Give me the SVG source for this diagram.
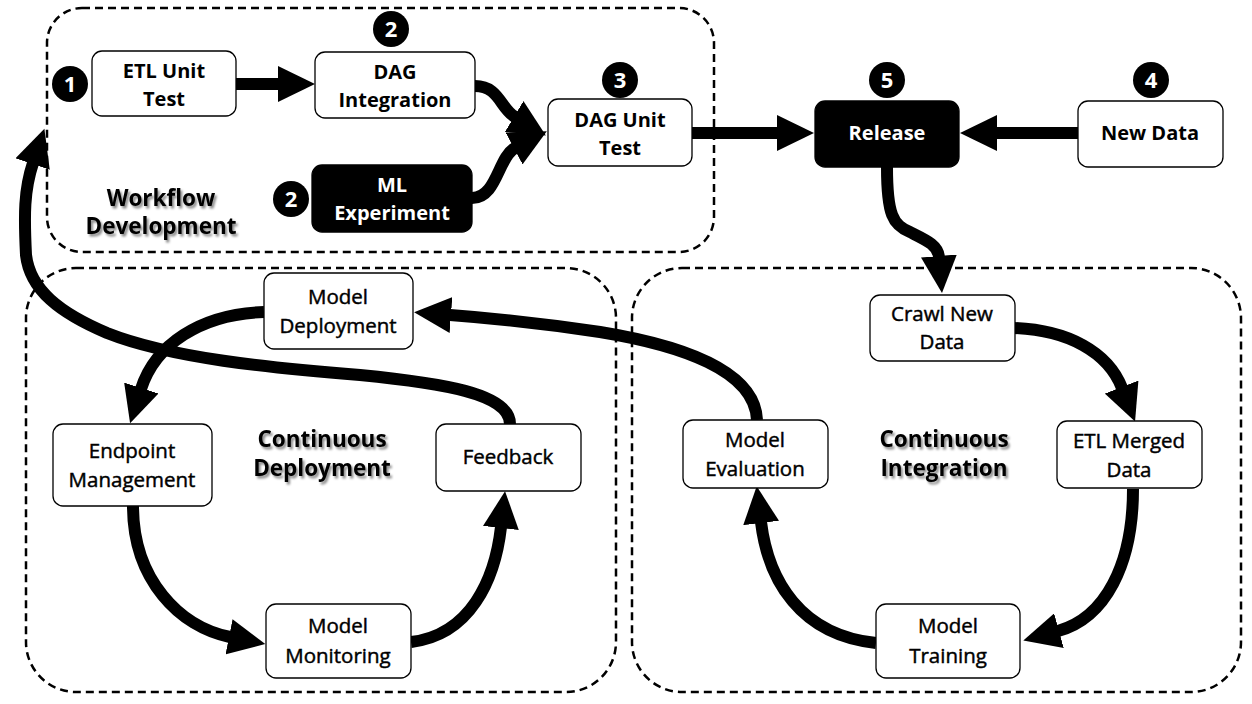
<svg xmlns="http://www.w3.org/2000/svg" width="1252" height="704" viewBox="0 0 1252 704">
<style>
.bg{fill:#fff}
.zone{fill:none;stroke:#000;stroke-width:2.5;stroke-dasharray:8 5}
.box{fill:#fff;stroke:#000;stroke-width:1.3}
.dark{fill:#000;stroke:#000;stroke-width:1.3}
.t{font-family:"Open Sans","Liberation Sans",sans-serif;font-size:20px;font-weight:bold;fill:#000;text-anchor:middle}
.tw{font-family:"Open Sans","Liberation Sans",sans-serif;font-size:20px;font-weight:bold;fill:#fff;text-anchor:middle}
.tn{font-family:"Open Sans","Liberation Sans",sans-serif;font-size:20.5px;font-weight:normal;fill:#000;stroke:#000;stroke-width:0.45;text-anchor:middle}
.lab{font-family:"Open Sans","Liberation Sans",sans-serif;font-size:22.5px;font-weight:bold;fill:#000;text-anchor:middle;filter:url(#sh)}
.num{fill:#000}
.numt{font-family:"Open Sans","Liberation Sans",sans-serif;font-size:22px;font-weight:bold;fill:#fff;text-anchor:middle}
.arr{fill:none;stroke:#000;stroke-width:12;marker-end:url(#ah)}
</style>
<defs>
<marker id="ah" markerUnits="userSpaceOnUse" markerWidth="38" markerHeight="36" viewBox="0 0 38 36" refX="1" refY="18" orient="auto">
<path d="M0,0 L37,18 L0,36 z" fill="#000"/>
</marker>
<filter id="sh" x="-10%" y="-20%" width="130%" height="160%">
<feDropShadow dx="2" dy="2.5" stdDeviation="1.3" flood-color="#000" flood-opacity="0.45"/>
</filter>
</defs>
<rect class="bg" x="0" y="0" width="1252" height="704"/>

<g id="zones">
<rect class="zone" x="47" y="8" width="667" height="244" rx="35"/>
<rect class="zone" x="26" y="268" width="590" height="424" rx="50"/>
<rect class="zone" x="632" y="268" width="609" height="424" rx="50"/>
</g>

<g id="labels">
<text class="lab" x="161" y="206">Workflow</text>
<text class="lab" x="161" y="234">Development</text>
<text class="lab" x="322" y="447">Continuous</text>
<text class="lab" x="322" y="476">Deployment</text>
<text class="lab" x="944" y="447">Continuous</text>
<text class="lab" x="944" y="476">Integration</text>
</g>

<g id="connectors">
<path class="arr" d="M236,84 L279,84"/>
<path class="arr" d="M475,86 C499,86 500,108 515,117"/>
<path class="arr" d="M472,198 C497,198 498,157 515,148"/>
<path class="arr" d="M692,133 L778,133"/>
<path class="arr" d="M1078,133 L996,133"/>
<path class="arr" d="M887,167 C887,215 893,225 910,232 C926,240 938,245 939,257"/>
<path class="arr" d="M1014,328 C1068,330 1108,352 1122,388"/>
<path class="arr" d="M1133,489 C1133,565 1105,618 1058,631"/>
<path class="arr" d="M876,643 C800,635 768,580 761,522"/>
<path class="arr" d="M757,420 C755,370 680,345 600,332 C540,323 490,318 450,315"/>
<path class="arr" d="M264,312 C200,314 155,345 141,389"/>
<path class="arr" d="M133,506 C133,580 180,627 230,637"/>
<path class="arr" d="M411,642 C470,635 495,580 501,527"/>
<path class="arr" d="M510,424 C510,393 440,383 360,375 C270,368 170,358 107,333 C60,313 30,290 26,255 C24,215 24,190 33,163"/>
</g>

<g id="n-etl-unit">
<rect class="box" x="92" y="51" width="144" height="65" rx="10"/>
<text class="t" x="164" y="78">ETL Unit</text>
<text class="t" x="164" y="106">Test</text>
</g>
<g id="n-dag-int">
<rect class="box" x="315" y="52" width="160" height="66" rx="10"/>
<text class="t" x="395" y="79">DAG</text>
<text class="t" x="395" y="107">Integration</text>
</g>
<g id="n-ml-exp">
<rect class="dark" x="312" y="165" width="160" height="67" rx="10"/>
<text class="tw" x="392" y="192">ML</text>
<text class="tw" x="392" y="220">Experiment</text>
</g>
<g id="n-dag-unit">
<rect class="box" x="548" y="99" width="144" height="67" rx="10"/>
<text class="t" x="620" y="127">DAG Unit</text>
<text class="t" x="620" y="155">Test</text>
</g>
<g id="n-release">
<rect class="dark" x="815" y="101" width="144" height="66" rx="10"/>
<text class="tw" x="887" y="140">Release</text>
</g>
<g id="n-new-data">
<rect class="box" x="1078" y="101" width="145" height="66" rx="10"/>
<text class="t" x="1150" y="140">New Data</text>
</g>

<g id="n-model-deploy">
<rect class="box" x="264" y="273" width="149" height="76" rx="10"/>
<text class="tn" x="338" y="304">Model</text>
<text class="tn" x="338" y="333">Deployment</text>
</g>
<g id="n-endpoint">
<rect class="box" x="53" y="424" width="159" height="82" rx="10"/>
<text class="tn" x="132" y="458">Endpoint</text>
<text class="tn" x="132" y="487">Management</text>
</g>
<g id="n-feedback">
<rect class="box" x="436" y="424" width="145" height="67" rx="10"/>
<text class="tn" x="508" y="464">Feedback</text>
</g>
<g id="n-monitoring">
<rect class="box" x="266" y="604" width="145" height="74" rx="10"/>
<text class="tn" x="338" y="633">Model</text>
<text class="tn" x="338" y="663">Monitoring</text>
</g>

<g id="n-crawl">
<rect class="box" x="870" y="295" width="145" height="66" rx="10"/>
<text class="tn" x="942" y="321">Crawl New</text>
<text class="tn" x="942" y="349">Data</text>
</g>
<g id="n-etl-merged">
<rect class="box" x="1057" y="421" width="145" height="67" rx="10"/>
<text class="tn" x="1129" y="448">ETL Merged</text>
<text class="tn" x="1129" y="477">Data</text>
</g>
<g id="n-training">
<rect class="box" x="876" y="604" width="144" height="74" rx="10"/>
<text class="tn" x="948" y="633">Model</text>
<text class="tn" x="948" y="663">Training</text>
</g>
<g id="n-evaluation">
<rect class="box" x="683" y="420" width="145" height="68" rx="10"/>
<text class="tn" x="755" y="447">Model</text>
<text class="tn" x="755" y="476">Evaluation</text>
</g>

<g id="badges">
<circle class="num" cx="70" cy="84" r="18"/><text class="numt" x="70" y="92">1</text>
<circle class="num" cx="391" cy="29" r="18"/><text class="numt" x="391" y="37">2</text>
<circle class="num" cx="291" cy="199" r="18"/><text class="numt" x="291" y="207">2</text>
<circle class="num" cx="620" cy="80" r="18"/><text class="numt" x="620" y="88">3</text>
<circle class="num" cx="887" cy="80" r="18"/><text class="numt" x="887" y="88">5</text>
<circle class="num" cx="1151" cy="80" r="18"/><text class="numt" x="1151" y="88">4</text>
</g>
</svg>
